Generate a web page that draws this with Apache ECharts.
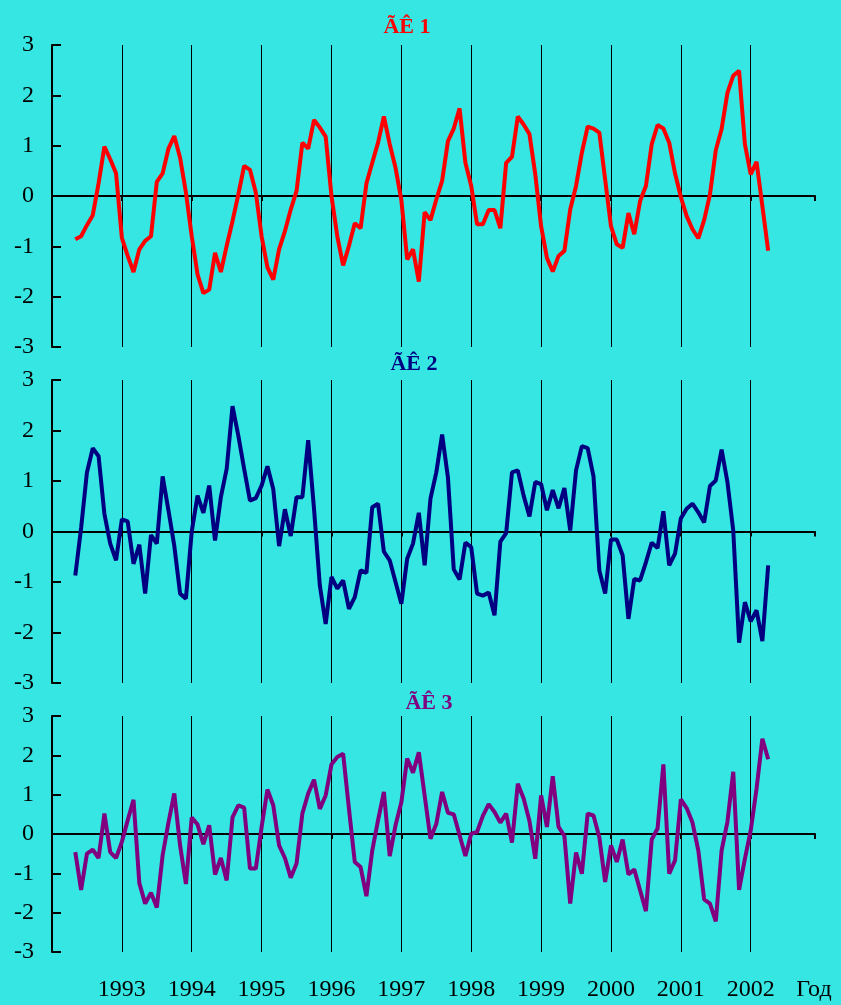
<!DOCTYPE html>
<html>
<head>
<meta charset="utf-8">
<script src="https://cdn.jsdelivr.net/npm/echarts@6/dist/echarts.min.js"></script>
<style>
  html, body { margin: 0; padding: 0; background: #35e6e3; }
  #chart { width: 841px; height: 1005px; }
</style>
</head>
<body>
<div id="chart"></div>
<script>
// monthly series, May 1992 .. Apr 2002
var startYear = 1992;
var startMonth = 5;

var gk1 = [
  -0.86, -0.80, -0.58, -0.38, 0.25, 0.98, 0.73, 0.45, -0.83, -1.19, -1.51, -1.06,
  -0.89, -0.80, 0.28, 0.45, 0.94, 1.19, 0.76, 0.07, -0.80, -1.56, -1.93, -1.86,
  -1.13, -1.51, -0.99, -0.50, 0.03, 0.60, 0.52, 0.07, -0.80, -1.42, -1.66, -1.06,
  -0.70, -0.27, 0.10, 1.06, 0.94, 1.51, 1.36, 1.18, 0.00, -0.80, -1.38, -0.99,
  -0.54, -0.64, 0.25, 0.66, 1.06, 1.58, 1.03, 0.56, -0.08, -1.26, -1.06, -1.70,
  -0.32, -0.48, -0.07, 0.30, 1.09, 1.34, 1.74, 0.66, 0.20, -0.56, -0.56, -0.28,
  -0.28, -0.64, 0.66, 0.78, 1.58, 1.42, 1.23, 0.43, -0.60, -1.23, -1.50, -1.19,
  -1.09, -0.27, 0.20, 0.86, 1.38, 1.34, 1.26, 0.33, -0.60, -0.96, -1.03, -0.34,
  -0.76, -0.10, 0.20, 1.03, 1.41, 1.34, 1.06, 0.45, -0.02, -0.40, -0.66, -0.84,
  -0.48, 0.03, 0.91, 1.33, 2.05, 2.39, 2.49, 1.03, 0.43, 0.68, -0.20, -1.09
];
var gk2 = [
  -0.87, 0.07, 1.17, 1.65, 1.49, 0.35, -0.24, -0.57, 0.24, 0.20, -0.64, -0.26,
  -1.23, -0.07, -0.24, 1.09, 0.42, -0.28, -1.23, -1.33, 0.00, 0.71, 0.37, 0.91,
  -0.18, 0.68, 1.24, 2.48, 1.90, 1.24, 0.61, 0.66, 0.91, 1.29, 0.84, -0.29,
  0.44, -0.09, 0.68, 0.68, 1.81, 0.45, -1.07, -1.83, -0.90, -1.13, -0.97, -1.53,
  -1.30, -0.77, -0.82, 0.48, 0.55, -0.40, -0.57, -1.00, -1.43, -0.54, -0.24, 0.37,
  -0.67, 0.65, 1.17, 1.92, 1.07, -0.75, -0.95, -0.22, -0.31, -1.23, -1.27, -1.21,
  -1.66, -0.20, -0.03, 1.17, 1.21, 0.71, 0.30, 0.98, 0.94, 0.42, 0.82, 0.46,
  0.86, 0.02, 1.21, 1.69, 1.65, 1.09, -0.77, -1.23, -0.16, -0.16, -0.47, -1.73,
  -0.94, -0.97, -0.61, -0.22, -0.33, 0.40, -0.67, -0.44, 0.26, 0.45, 0.55, 0.38,
  0.18, 0.90, 1.01, 1.62, 0.98, 0.02, -2.20, -1.40, -1.78, -1.56, -2.17, -0.67
];
var gk3 = [
  -0.46, -1.42, -0.50, -0.40, -0.61, 0.52, -0.46, -0.61, -0.20, 0.35, 0.87, -1.25,
  -1.77, -1.49, -1.87, -0.54, 0.29, 1.03, -0.29, -1.27, 0.42, 0.24, -0.26, 0.22,
  -1.03, -0.61, -1.18, 0.42, 0.73, 0.67, -0.88, -0.88, 0.18, 1.13, 0.73, -0.29,
  -0.61, -1.11, -0.75, 0.52, 1.03, 1.38, 0.64, 0.98, 1.77, 1.96, 2.04, 0.64,
  -0.71, -0.84, -1.58, -0.42, 0.35, 1.07, -0.56, 0.22, 0.81, 1.92, 1.56, 2.08,
  0.98, -0.12, 0.26, 1.07, 0.54, 0.50, -0.03, -0.56, 0.01, 0.05, 0.46, 0.76,
  0.56, 0.29, 0.52, -0.22, 1.28, 0.90, 0.33, -0.63, 0.98, 0.18, 1.47, 0.18,
  -0.05, -1.77, -0.47, -1.01, 0.52, 0.47, -0.08, -1.22, -0.29, -0.71, -0.14, -1.03,
  -0.90, -1.43, -1.96, -0.14, 0.14, 1.77, -1.01, -0.67, 0.88, 0.66, 0.29, -0.42,
  -1.66, -1.77, -2.22, -0.42, 0.31, 1.58, -1.42, -0.63, 0.09, 1.15, 2.42, 1.90
];

var titles = ['ÃÊ 1', 'ÃÊ 2', 'ÃÊ 3'];
var colors = ['#ff0000', '#000080', '#800080'];
var yearLabels = [1993, 1994, 1995, 1996, 1997, 1998, 1999, 2000, 2001, 2002];
var axisName = 'Год';

var serif = '"Liberation Serif", "Times New Roman", serif';
var xMin = 1992, xMax = 2002.92;

function toXY(arr) {
  return arr.map(function (v, i) {
    return [startYear + (startMonth - 1 + i) / 12, v];
  });
}

var tops = [45, 380, 716];
var heights = [302, 303, 236];
var titlePos = [[407, 27], [414, 364], [429, 703]];
var data = [gk1, gk2, gk3];

var grids = [], xAxes = [], yAxes = [], series = [], graphics = [];

for (var p = 0; p < 3; p++) {
  grids.push({ left: 52, width: 763, top: tops[p], height: heights[p] });

  yAxes.push({
    gridIndex: p, type: 'value', min: -3, max: 3, interval: 1,
    axisLine: { show: true, lineStyle: { color: '#000', width: 2 } },
    axisTick: { show: true, inside: true, length: 9, lineStyle: { color: '#000', width: 2 } },
    axisLabel: { color: '#000', fontFamily: serif, fontSize: 24, margin: 18 },
    splitLine: { show: false }
  });

  // zero line + year grid lines
  var mainIdx = xAxes.length;
  xAxes.push({
    gridIndex: p, type: 'value', min: xMin, max: xMax, interval: 1,
    axisLine: { onZero: true, lineStyle: { color: '#000', width: 2 } },
    axisTick: { show: true, length: 5, lineStyle: { color: '#000', width: 2 } },
    axisLabel: { show: false },
    splitLine: { show: true, showMinLine: false, showMaxLine: false, lineStyle: { color: '#000', width: 1 } }
  });

  series.push({
    type: 'line', xAxisIndex: mainIdx, yAxisIndex: p,
    data: toXY(data[p]), symbol: 'none', z: 5,
    lineStyle: { color: colors[p], width: 4 }
  });

  graphics.push({
    type: 'text', x: titlePos[p][0], y: titlePos[p][1],
    style: {
      text: titles[p], fill: colors[p], textAlign: 'center', textVerticalAlign: 'middle',
      font: 'bold 22px ' + serif
    }
  });
}

// year labels under the last panel
xAxes.push({
  gridIndex: 2, type: 'value', position: 'bottom', min: xMin, max: xMax, interval: 1,
  axisLine: { show: false, onZero: false },
  axisTick: { show: false },
  splitLine: { show: false },
  axisLabel: {
    show: true, margin: 26, color: '#000', fontFamily: serif, fontSize: 24,
    formatter: function (v) { return yearLabels.indexOf(v) >= 0 ? String(v) : ''; }
  }
});

graphics.push({
  type: 'text', x: 814, y: 990,
  style: { text: axisName, fill: '#000', textAlign: 'center', textVerticalAlign: 'middle', font: '24px ' + serif }
});

var chart = echarts.init(document.getElementById('chart'));
chart.setOption({
  backgroundColor: '#35e6e3',
  animation: false,
  grid: grids,
  xAxis: xAxes,
  yAxis: yAxes,
  series: series,
  graphic: graphics
});
</script>
</body>
</html>
